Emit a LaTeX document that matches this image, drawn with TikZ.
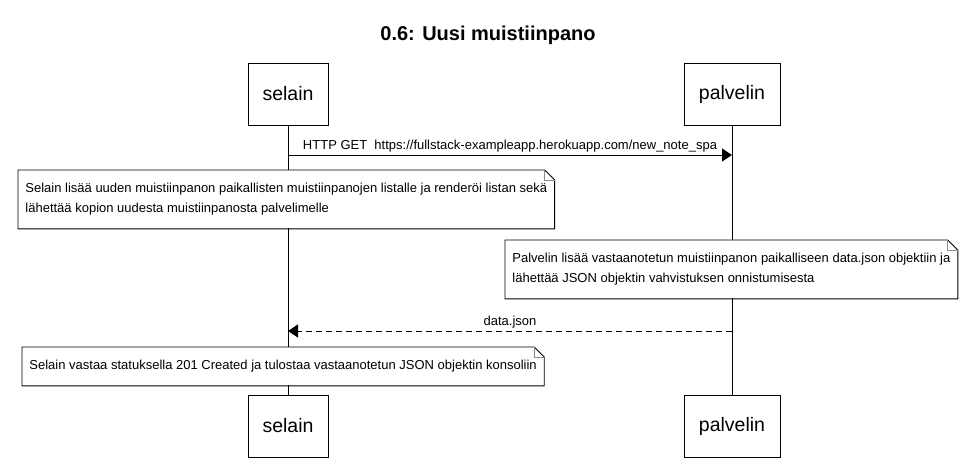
\documentclass[tikz,border=0pt]{standalone}
\usepackage{fontspec}
\setmainfont{Liberation Sans}
\usetikzlibrary{arrows.meta, positioning, calc}
\tikzset{
    actor/.style={draw, fill=white, minimum width=#1, minimum height=62pt, inner sep=0pt, font=\fontsize{19.5}{22}\selectfont},
    actor/.default={80pt},
    msg/.style={-{Triangle[length=10pt,width=13pt]}},
    reply/.style={msg, dash pattern=on 6pt off 4pt},
    msglabel/.style={font=\fontsize{13}{15}\selectfont, inner sep=2pt},
    note/.style={fill=white, inner xsep=7pt, inner ysep=0pt, align=left, minimum height=#1, anchor=north west, font=\fontsize{13}{20}\selectfont},
    fold/.style={draw=black!45}
}
\begin{document}
\begin{tikzpicture}[x=1pt, y=-1pt, line width=0.9pt]
    \useasboundingbox (0,0) rectangle (975,466);
    \def \xs {288}
    \def \xp {732}
    \node[font=\bfseries\fontsize{20}{22}\selectfont] (title) at (488,35) {0.6: Uusi muistiinpano};
    % participants
    \node[actor] (selain) at (\xs,94) {selain};
    \node[actor=96pt] (palvelin) at (\xp,94) {palvelin};
    \node[actor] (selainB) at (\xs,426) {selain};
    \node[actor=96pt] (palvelinB) at (\xp,426) {palvelin};
    \draw (selain) -- (selainB);
    \draw (palvelin) -- (palvelinB);
    % messages
    \coordinate (s1) at (\xs,155);
    \coordinate (p1) at (\xp,155);
    \coordinate (s2) at (\xs,331);
    \coordinate (p2) at (\xp,331);
    \draw[msg] (s1) -- node[msglabel, above] {HTTP GET\ \ https://fullstack-exampleapp.herokuapp.com/new\_note\_spa} (p1);
    \draw[reply] (p2) -- node[msglabel, above] {data.json} (s2);
    % notes
    \node[note=58pt] (n1) at (18,170) {Selain lisää uuden muistiinpanon paikallisten muistiinpanojen listalle ja renderöi listan sekä\\lähettää kopion uudesta muistiinpanosta palvelimelle};
    \node[note=58pt] (n2) at (505,240) {Palvelin lisää vastaanotetun muistiinpanon paikalliseen data.json objektiin ja\\lähettää JSON objektin vahvistuksen onnistumisesta};
    \node[note=38pt] (n3) at (22,347) {Selain vastaa statuksella 201 Created ja tulostaa vastaanotetun JSON objektin konsoliin};
    \foreach \n in {n1,n2,n3}{
    \draw (\n.south west) -- (\n.north west) -- ([xshift=-10pt]\n.north east) -- ([yshift=-10pt]\n.north east) -- (\n.south east) -- cycle;
    \draw[fold] ([xshift=-10pt]\n.north east) |- ([yshift=-10pt]\n.north east);
    }
\end{tikzpicture}
\end{document}
